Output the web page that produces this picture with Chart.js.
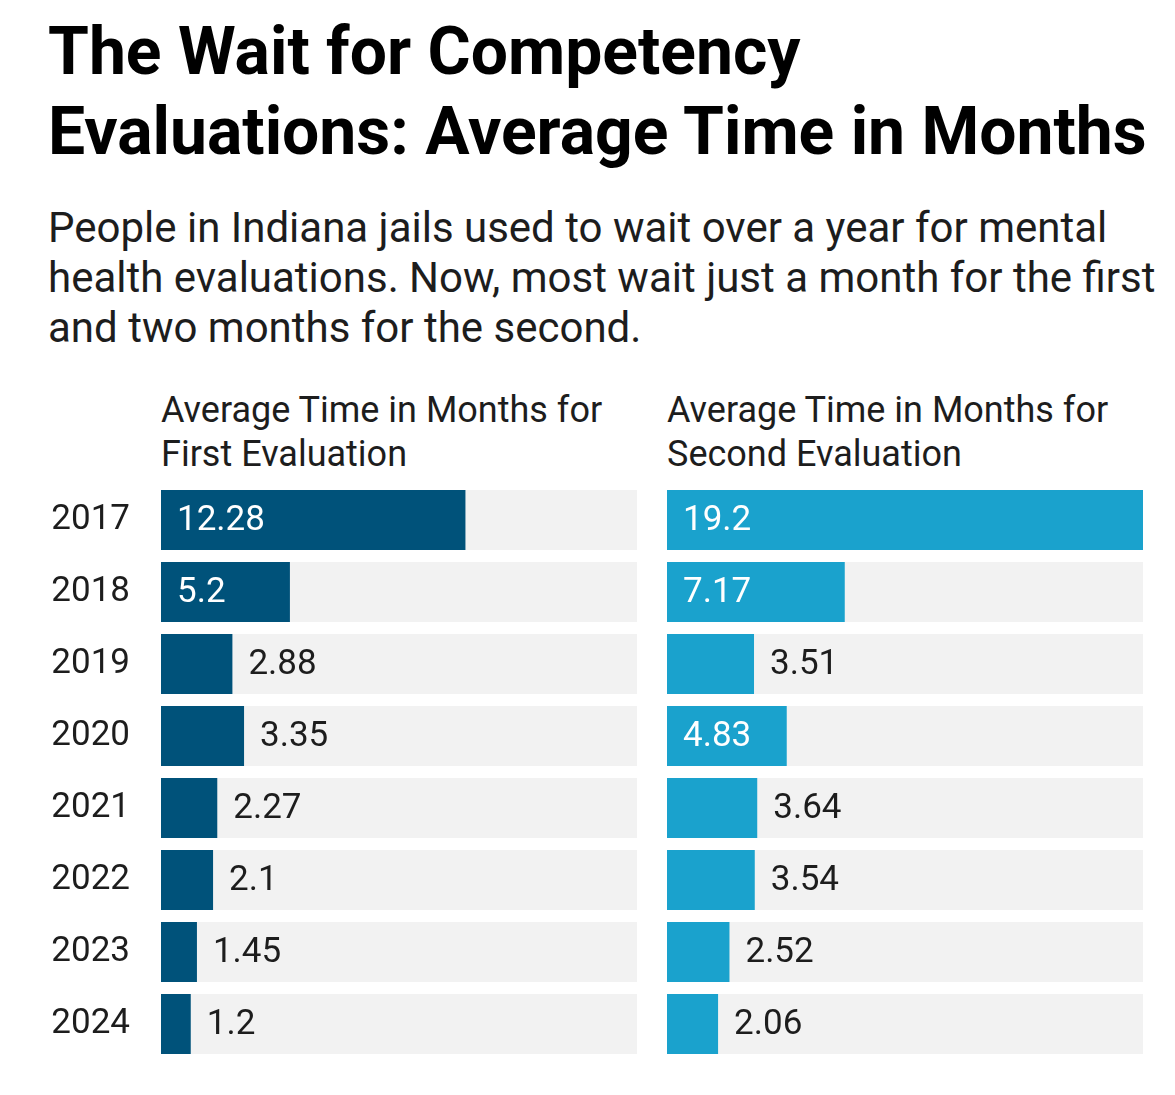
<!DOCTYPE html>
<html>
<head>
<meta charset="utf-8">
<script src="https://cdn.jsdelivr.net/npm/chart.js@4"></script>
<style>
    body { margin: 0; background: #fff; width: 1175px; height: 1095px; position: relative; overflow: hidden; font-family: Roboto, sans-serif; }
    .title { position: absolute; left: 48px; top: 12px; font-size: 66px; font-weight: 700; line-height: 80px; color: #000; white-space: nowrap; }
    .subtitle { position: absolute; left: 48px; top: 203px; font-size: 42px; line-height: 50px; color: #1d1d1d; white-space: nowrap; }
    .panel-title { position: absolute; top: 388px; font-size: 36px; line-height: 44px; color: #1d1d1d; white-space: nowrap; }
    .chart-box { position: absolute; top: 484px; height: 576px; }
</style>
</head>
<body>
<div class="title">The Wait for Competency<br>Evaluations: Average Time in Months</div>
<div class="subtitle">People in Indiana jails used to wait over a year for mental<br>health evaluations. Now, most wait just a month for the first<br>and two months for the second.</div>
<div class="panel-title" style="left:161px">Average Time in Months for<br>First Evaluation</div>
<div class="panel-title" style="left:667px">Average Time in Months for<br>Second Evaluation</div>
<div class="chart-box" style="left:0; width:650px"><canvas id="first-chart"></canvas></div>
<div class="chart-box" style="left:667px; width:476px"><canvas id="second-chart"></canvas></div>

<script>
// Dados
const years = ['2017', '2018', '2019', '2020', '2021', '2022', '2023', '2024'];
const firstEval = [12.28, 5.2, 2.88, 3.35, 2.27, 2.1, 1.45, 1.2];
const secondEval = [19.2, 7.17, 3.51, 4.83, 3.64, 3.54, 2.52, 2.06];
const axisMax = 19.2;

const labelFont = '35px Roboto, sans-serif';
const textColor = '#1d1d1d';

// Rótulos de valor: dentro da barra (branco) se couber, senão do lado de fora
const valueLabels = {
    id: 'valueLabels',
    afterDatasetsDraw(chart) {
        const ctx = chart.ctx;
        const meta = chart.getDatasetMeta(0);
        const values = chart.data.datasets[0].data;
        const pad = 16;
        ctx.save();
        ctx.font = labelFont;
        ctx.textBaseline = 'middle';
        ctx.textAlign = 'left';
        meta.data.forEach((bar, i) => {
            const text = String(values[i]);
            const w = ctx.measureText(text).width;
            const barWidth = bar.x - bar.base;
            if (barWidth > w + pad * 2) {
                ctx.fillStyle = '#ffffff';
                ctx.fillText(text, bar.base + pad, bar.y + 1);
            } else {
                ctx.fillStyle = textColor;
                ctx.fillText(text, bar.x + pad, bar.y + 1);
            }
        });
        ctx.restore();
    }
};

function createChart(id, values, color, showYears) {
    const ctx = document.getElementById(id);
    return new Chart(ctx, {
        type: 'bar',
        data: {
            labels: years,
            datasets: [
                {
                    data: values,
                    backgroundColor: color,
                    order: 1
                },
                {
                    data: years.map(() => axisMax),
                    backgroundColor: '#f2f2f2',
                    order: 2
                }
            ]
        },
        options: {
            indexAxis: 'y',
            responsive: true,
            maintainAspectRatio: false,
            animation: false,
            datasets: {
                bar: {
                    grouped: false,
                    barPercentage: 1,
                    categoryPercentage: 60 / 72,
                    borderWidth: 0
                }
            },
            layout: { padding: { left: 0, right: showYears ? 13 : 0, top: 0, bottom: 0 } },
            plugins: {
                legend: { display: false },
                tooltip: { enabled: false },
                title: { display: false }
            },
            scales: {
                x: {
                    display: false,
                    min: 0,
                    max: axisMax
                },
                y: {
                    display: showYears,
                    grid: { display: false, drawTicks: false },
                    border: { display: false },
                    ticks: {
                        color: textColor,
                        font: { family: 'Roboto, sans-serif', size: 35 },
                        padding: 31
                    },
                    afterFit(scale) {
                        if (!showYears) return;
                        // largura fixa do eixo e sem folga vertical extra
                        scale.width = 161;
                        scale.paddingTop = 0;
                        scale.paddingBottom = 0;
                    }
                }
            }
        },
        plugins: [valueLabels]
    });
}

createChart('first-chart', firstEval, '#00527a', true);
createChart('second-chart', secondEval, '#1aa2cd', false);
</script>
</body>
</html>
